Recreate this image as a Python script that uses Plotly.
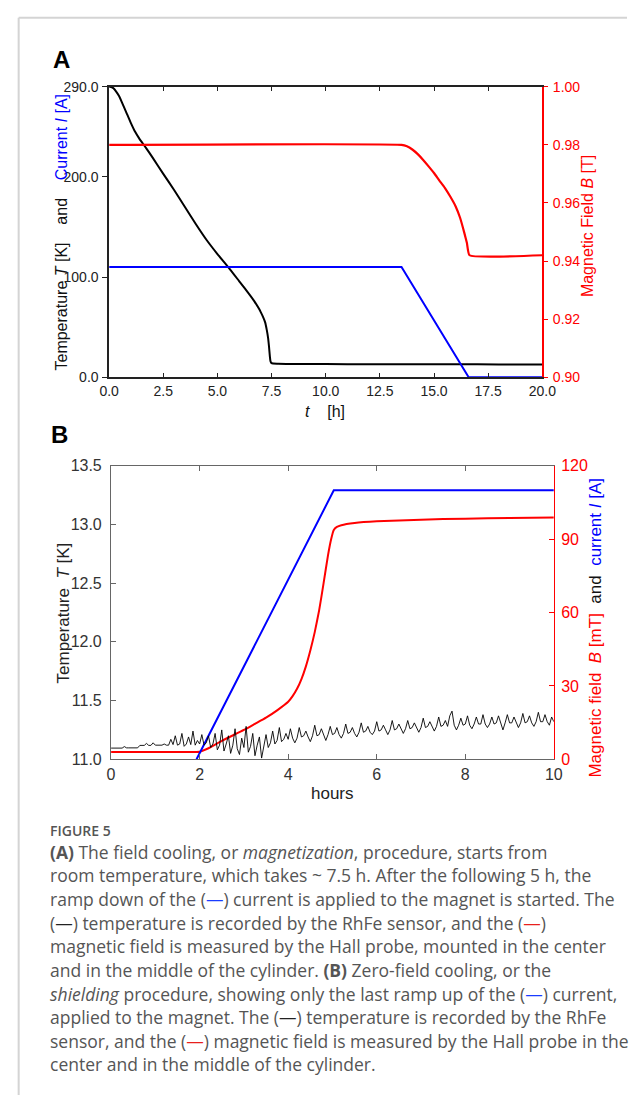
import plotly.graph_objects as go

W, H = 641, 1104

# ---------------- Panel A data ----------------
a_time_T = [0, 0.1, 0.2, 0.3, 0.45, 0.6, 0.8, 1.0, 1.2, 1.4, 1.7, 2.0, 2.5, 3.0, 3.5, 4.0,
            4.5, 5.0, 5.5, 6.0, 6.5, 6.7, 6.9, 7.0, 7.1, 7.2, 7.28, 7.34, 7.38, 7.42, 7.45,
            7.5, 7.8, 8.5, 10, 12, 14, 16, 18, 20]
a_temp = [290, 289.8, 288.5, 286, 281, 274, 264, 254, 245, 238, 229, 219.5, 203, 187, 170, 153,
          137, 123, 110, 96, 82, 76, 69, 65, 60.5, 55, 47, 39, 31, 21, 16,
          14, 13.5, 13.3, 13.1, 13, 12.9, 12.9, 12.8, 12.8]
a_time_I = [0, 13.5, 16.6, 20]
a_current = [110, 110, 0, 0]
a_time_B = [0, 13.5, 13.75, 14.0, 14.25, 14.5, 14.75, 15.0, 15.25, 15.5, 15.75, 16.0, 16.2,
            16.4, 16.52, 16.64, 20]
a_field = [0.98, 0.98, 0.9795, 0.9784, 0.9768, 0.9748, 0.9726, 0.9703, 0.9677, 0.9652, 0.9622,
           0.9588, 0.9550, 0.9497, 0.9462, 0.9420, 0.9420]
a_x_ticks = [0, 2.5, 5, 7.5, 10, 12.5, 15, 17.5, 20]
a_x_labels = ["0.0", "2.5", "5.0", "7.5", "10.0", "12.5", "15.0", "17.5", "20.0"]
a_yl_ticks = [0, 100, 200, 290]
a_yl_labels = ["0.0", "100.0", "200.0", "290.0"]
a_yr_ticks = [0.90, 0.92, 0.94, 0.96, 0.98, 1.00]
a_yr_labels = ["0.90", "0.92", "0.94", "0.96", "0.98", "1.00"]

# ---------------- Panel B data ----------------
b_time_I = [1.93, 5.03, 10]
b_current = [0, 110, 110]
b_time_B = [0, 1.5, 2.0, 2.2, 2.5, 3.0, 3.25, 3.5, 3.75, 4.0, 4.1, 4.2, 4.3, 4.4, 4.5, 4.6,
            4.7, 4.8, 4.9, 4.97, 5.03, 5.1, 5.2, 5.5, 6, 7, 8, 9, 10]
b_field = [3.0, 3.0, 3.1, 4.5, 7.5, 12, 14.5, 17, 20.0, 23.5, 25.8, 28.8, 32.8, 38.0, 44.5, 52,
           61, 72, 83.5, 90, 93.8, 95.0, 95.7, 96.6, 97.3, 98.0, 98.4, 98.7, 98.9]
b_temp_t0 = 0.0
b_temp_dt = 0.05
b_temp = [
    11.095, 11.095, 11.095, 11.095, 11.095, 11.095, 11.108, 11.097, 11.097, 11.097,
    11.097, 11.097, 11.097, 11.118, 11.118, 11.118, 11.135, 11.118, 11.118, 11.14,
    11.12, 11.12, 11.12, 11.12, 11.13, 11.12, 11.12, 11.17, 11.125, 11.2,
    11.12, 11.13, 11.22, 11.11, 11.13, 11.19, 11.125, 11.24, 11.12, 11.16,
    11.13, 11.21, 11.12, 11.14, 11.2, 11.1, 11.13, 11.22, 11.08, 11.12,
    11.25, 11.07, 11.13, 11.2, 11.05, 11.12, 11.26, 11.09, 11.04, 11.18,
    11.1, 11.28, 11.06, 11.11, 11.22, 11.03, 11.12, 11.19, 11.01, 11.13,
    11.21, 11.1, 11.14, 11.24, 11.13, 11.16, 11.27, 11.15, 11.17, 11.22,
    11.17, 11.26, 11.18, 11.14, 11.18, 11.27, 11.19, 11.2, 11.24, 11.19,
    11.15, 11.2, 11.29, 11.2, 11.21, 11.26, 11.2, 11.16, 11.21, 11.28,
    11.21, 11.22, 11.27, 11.21, 11.18, 11.22, 11.3, 11.22, 11.23, 11.27,
    11.22, 11.19, 11.23, 11.31, 11.23, 11.24, 11.28, 11.23, 11.21, 11.24,
    11.32, 11.24, 11.25, 11.29, 11.25, 11.21, 11.25, 11.33, 11.25, 11.26,
    11.3, 11.26, 11.22, 11.26, 11.33, 11.26, 11.27, 11.31, 11.27, 11.23,
    11.27, 11.35, 11.27, 11.28, 11.32, 11.28, 11.24, 11.28, 11.36, 11.28,
    11.29, 11.33, 11.28, 11.37, 11.41, 11.29, 11.25, 11.29, 11.35, 11.29,
    11.3, 11.37, 11.29, 11.26, 11.3, 11.36, 11.3, 11.3, 11.38, 11.3,
    11.27, 11.3, 11.36, 11.3, 11.31, 11.37, 11.3, 11.25, 11.31, 11.38,
    11.31, 11.31, 11.36, 11.31, 11.27, 11.31, 11.39, 11.31, 11.32, 11.37,
    11.31, 11.28, 11.32, 11.4, 11.32, 11.32, 11.38, 11.32, 11.29, 11.36,
    11.32,
]
b_x_ticks = [0, 2, 4, 6, 8, 10]
b_x_labels = ["0", "2", "4", "6", "8", "10"]
b_yl_ticks = [11.0, 11.5, 12.0, 12.5, 13.0, 13.5]
b_yl_labels = ["11.0", "11.5", "12.0", "12.5", "13.0", "13.5"]
b_yr_ticks = [0, 30, 60, 90, 120]
b_yr_labels = ["0", "30", "60", "90", "120"]

caption_lines = [
    "<b>(A)</b> The field cooling, or <i>magnetization</i>, procedure, starts from",
    "room temperature, which takes ~ 7.5 h. After the following 5 h, the",
    "ramp down of the (<span style='color:#1a3cff'>—</span>) current is applied to the magnet is started. The",
    "(<span style='color:#222'>—</span>) temperature is recorded by the RhFe sensor, and the (<span style='color:#e8201c'>—</span>)",
    "magnetic field is measured by the Hall probe, mounted in the center",
    "and in the middle of the cylinder. <b>(B)</b> Zero-field cooling, or the",
    "<i>shielding</i> procedure, showing only the last ramp up of the (<span style='color:#1a3cff'>—</span>) current,",
    "applied to the magnet. The (<span style='color:#222'>—</span>) temperature is recorded by the RhFe",
    "sensor, and the (<span style='color:#e8201c'>—</span>) magnetic field is measured by the Hall probe in the",
    "center and in the middle of the cylinder.",
]


def px(x):
    return x / W


def py(y):
    return 1 - y / H


CHART_FONT = "Liberation Sans, Arial, Helvetica, sans-serif"
BLUE = "#0000ff"
RED = "#ff0000"

fig = go.Figure()

# Panel A traces
fig.add_trace(go.Scatter(x=a_time_T, y=a_temp, mode="lines",
                         line=dict(color="black", width=2, shape="spline", smoothing=0.5),
                         xaxis="x", yaxis="y", showlegend=False))
fig.add_trace(go.Scatter(x=a_time_I, y=a_current, mode="lines", line=dict(color=BLUE, width=2),
                         xaxis="x", yaxis="y", showlegend=False))
fig.add_trace(go.Scatter(x=a_time_B, y=a_field, mode="lines",
                         line=dict(color=RED, width=2.2, shape="spline", smoothing=0.4),
                         xaxis="x", yaxis="y2", showlegend=False))

# Panel B traces
fig.add_trace(go.Scatter(x=b_time_B, y=b_field, mode="lines",
                         line=dict(color=RED, width=2, shape="spline", smoothing=0.5),
                         xaxis="x2", yaxis="y3", showlegend=False))
fig.add_trace(go.Scatter(x=b_time_I, y=b_current, mode="lines", line=dict(color=BLUE, width=2),
                         xaxis="x2", yaxis="y3", showlegend=False))
fig.add_trace(go.Scatter(x0=b_temp_t0, dx=b_temp_dt, y=b_temp, mode="lines",
                         line=dict(color="black", width=0.9),
                         xaxis="x2", yaxis="y4", showlegend=False))

common = dict(showgrid=False, zeroline=False, showline=True)

fig.update_layout(
    width=W, height=H,
    margin=dict(l=0, r=0, t=0, b=0),
    paper_bgcolor="white", plot_bgcolor="white",
    font=dict(family=CHART_FONT, color="#111"),
    xaxis=dict(domain=[px(103), px(553)], anchor="y", range=[0, 20],
               tickmode="array", tickvals=a_x_ticks, ticktext=a_x_labels,
               ticks="inside", ticklen=4, tickcolor="#222", mirror="ticks",
               linecolor="#222", linewidth=1.5, tickfont=dict(size=14, color="#222"), **common),
    yaxis=dict(domain=[py(375), py(80)], anchor="x", range=[0, 290],
               tickmode="array", tickvals=a_yl_ticks, ticktext=a_yl_labels,
               ticks="outside", ticklen=5, tickcolor="#222", linecolor="#222", linewidth=1.5,
               tickfont=dict(size=14, color="#222"), ticklabelstandoff=1, **common),
    yaxis2=dict(overlaying="y", side="right", anchor="x", range=[0.9, 1.0],
                tickmode="array", tickvals=a_yr_ticks, ticktext=a_yr_labels,
                ticks="outside", ticklen=4, tickcolor=RED, linecolor=RED, linewidth=1.5,
                tickfont=dict(size=14, color=RED), ticklabelstandoff=2, **common),
    xaxis2=dict(domain=[px(105), px(565)], anchor="y3", range=[0, 10],
                tickmode="array", tickvals=b_x_ticks, ticktext=b_x_labels,
                ticks="inside", ticklen=5, tickcolor="#666", mirror="ticks",
                linecolor="#666", linewidth=1.2, tickfont=dict(size=16, color="#333"), **common),
    yaxis3=dict(domain=[py(763), py(465)], anchor="x2", side="right", range=[0, 120],
                tickmode="array", tickvals=b_yr_ticks, ticktext=b_yr_labels,
                ticks="inside", ticklen=5, tickcolor=RED, linecolor=RED, linewidth=1.2,
                tickfont=dict(size=16, color=RED), ticklabelstandoff=3, **common),
    yaxis4=dict(overlaying="y3", side="left", anchor="x2", range=[11.0, 13.5],
                tickmode="array", tickvals=b_yl_ticks, ticktext=b_yl_labels,
                ticks="inside", ticklen=5, tickcolor="#666", linecolor="#666", linewidth=1.2,
                tickfont=dict(size=16, color="#333"), ticklabelstandoff=5, **common),
)

nb = "\u00a0"
ann = []
# panel letters
ann.append(dict(x=px(53), y=py(52), text="<b>A</b>", font=dict(size=24, color="black", family=CHART_FONT)))
ann.append(dict(x=px(51), y=py(433), text="<b>B</b>", font=dict(size=24, color="black", family=CHART_FONT)))
# panel A titles
ann.append(dict(x=px(53), y=py(228), textangle=-90,
                text=f"Temperature <i>T</i> [K]{nb*3} and {nb*3}<span style='color:{BLUE}'>Current <i>I</i> [A]</span>",
                font=dict(size=16, color="#111", family=CHART_FONT)))
ann.append(dict(x=px(600), y=py(222), textangle=-90,
                text="Magnetic Field <i>B</i> [T]", font=dict(size=16, color=RED, family=CHART_FONT)))
ann.append(dict(x=px(327), y=py(410), text=f"<i>t</i>{nb*4}[h]",
                font=dict(size=16, color="#111", family=CHART_FONT)))
# panel B titles
ann.append(dict(x=px(56), y=py(614), textangle=-90,
                text=f"Temperature{nb*2}<i>T</i> [K]", font=dict(size=17, color="#222", family=CHART_FONT)))
ann.append(dict(x=px(608), y=py(629), textangle=-90,
                text=(f"<span style='color:{RED}'>Magnetic field{nb*2}<i>B</i> [mT]</span>{nb*2}"
                      f"<span style='color:#111'>and</span>{nb*2}<span style='color:{BLUE}'>current <i>I</i> [A]</span>"),
                font=dict(size=17, color=RED, family=CHART_FONT)))
ann.append(dict(x=px(335), y=py(798), text="hours", font=dict(size=17, color="#222", family=CHART_FONT)))

for a in ann:
    a.update(xref="paper", yref="paper", xanchor="center", yanchor="middle", showarrow=False)

# caption
cap = [dict(x=px(41), y=py(835), text="FIGURE 5",
            font=dict(size=14, color="#555", family="Open Sans SemiBold, Open Sans, sans-serif"))]
for i, line in enumerate(caption_lines):
    cap.append(dict(x=px(41), y=py(857 + 24 * i), text=line,
                    font=dict(size=17.5, color="#555", family="Open Sans, sans-serif")))
for a in cap:
    a.update(xref="paper", yref="paper", xanchor="left", yanchor="middle", borderpad=0,
             showarrow=False)

fig.update_layout(annotations=ann + cap)

# card border (top and left)
fig.update_layout(shapes=[
    dict(type="line", xref="paper", yref="paper", x0=px(9), x1=1, y0=py(10), y1=py(10),
         line=dict(color="#d4d4d4", width=2)),
    dict(type="line", xref="paper", yref="paper", x0=px(9), x1=px(9), y0=py(10), y1=0,
         line=dict(color="#d4d4d4", width=2)),
])

fig.write_html(
    "out.html",
    config={"displayModeBar": False},
    post_script=("document.body.style.margin='0';document.body.style.padding='0';"
                 "document.body.style.overflow='hidden';"
                 "document.documentElement.style.overflow='hidden';"),
)
